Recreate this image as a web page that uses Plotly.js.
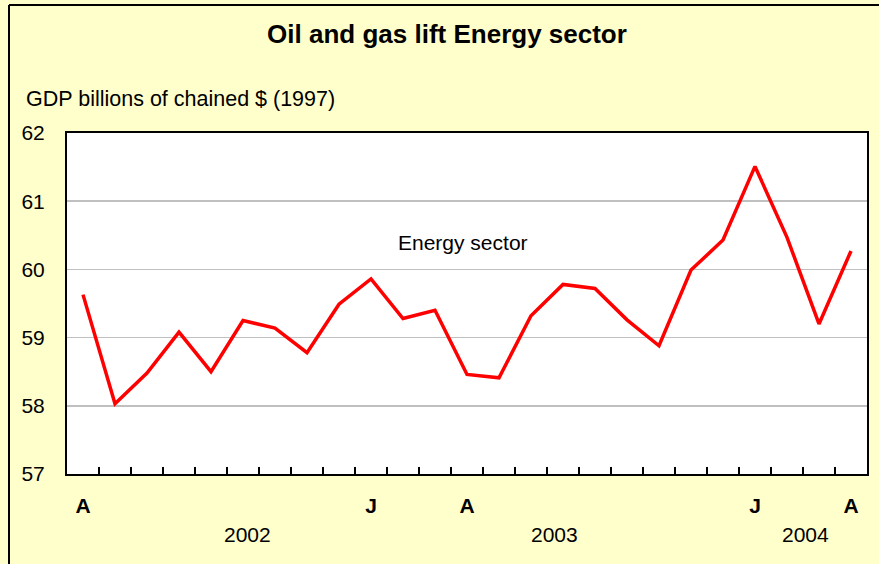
<!DOCTYPE html>
<html>
<head>
<meta charset="utf-8">
<script src="https://cdn.plot.ly/plotly-3.0.1.min.js"></script>
<style>
html,body{margin:0;padding:0;background:#FFFFCC;}
#chart{width:879px;height:564px;}
</style>
</head>
<body>
<div id="chart"></div>
<script>
// Monthly categories, April 2002 - April 2004
var months = ['Apr 2002','May 2002','Jun 2002','Jul 2002','Aug 2002','Sep 2002','Oct 2002','Nov 2002','Dec 2002',
              'Jan 2003','Feb 2003','Mar 2003','Apr 2003','May 2003','Jun 2003','Jul 2003','Aug 2003','Sep 2003',
              'Oct 2003','Nov 2003','Dec 2003','Jan 2004','Feb 2004','Mar 2004','Apr 2004'];
// Energy sector GDP, billions of chained 1997 dollars
var energySector = [59.63, 58.03, 58.48, 59.08, 58.50, 59.25, 59.14, 58.78, 59.49,
                    59.86, 59.28, 59.40, 58.46, 58.41, 59.32, 59.78, 59.72, 59.26,
                    58.88, 59.99, 60.43, 61.51, 60.47, 59.20, 60.27];
// Month letters shown under the axis
var monthTickLabels = ['A','','','','','','','','',
                       'J','','','A','','','','','',
                       '','','','J','','','A'];
var yearLabels = ['2002','2003','2004'];
var yearLabelX = [0.226, 0.609, 0.9225];
var yTickValues = [57, 58, 59, 60, 61, 62];

var FONT = 'Liberation Sans, Arial, sans-serif';

var trace = {
  x: months,
  y: energySector,
  type: 'scatter',
  mode: 'lines',
  line: {color: '#FF0000', width: 3.5},
  hoverinfo: 'x+y',
  showlegend: false
};

var annotations = [
  {text: 'GDP billions of chained $ (1997)', xref: 'paper', yref: 'paper',
   x: (24-67)/800, y: 1 + (133-98.5)/341, xanchor: 'left', yanchor: 'middle',
   showarrow: false, font: {family: FONT, size: 21.5, color: '#000'}},
  {text: 'Energy sector', xref: 'paper', yref: 'y',
   x: (463-67)/800, y: 60.40, xanchor: 'center', yanchor: 'middle',
   showarrow: false, font: {family: FONT, size: 21, color: '#000'}}
];
for (var i = 0; i < yearLabels.length; i++) {
  annotations.push({text: yearLabels[i], xref: 'paper', yref: 'paper',
    x: yearLabelX[i], y: (474-534)/341, xanchor: 'center', yanchor: 'middle',
    showarrow: false, font: {family: FONT, size: 21, color: '#000'}});
}

var layout = {
  width: 879, height: 564,
  margin: {l: 67, r: 12, t: 133, b: 90, pad: 0},
  paper_bgcolor: '#FFFFCC',
  plot_bgcolor: '#FFFFFF',
  title: {text: '<b>Oil and gas lift Energy sector</b>', xref: 'container', yref: 'container',
          x: 447/879, y: 1 - 34/564, xanchor: 'center', yanchor: 'middle',
          font: {family: FONT, size: 26, color: '#000'}},
  xaxis: {
    type: 'category',
    tickmode: 'array', tickvals: months, ticktext: monthTickLabels,
    tickson: 'boundaries',
    ticks: 'inside', ticklen: 7, tickwidth: 2, tickcolor: '#000',
    showline: true, linecolor: '#000', linewidth: 2, mirror: true,
    showgrid: false, zeroline: false,
    range: [-0.5, 24.5],
    tickfont: {family: FONT, size: 21, color: '#000', weight: 'bold'},
    ticklabelstandoff: 12
  },
  yaxis: {
    range: [57, 62], tickmode: 'array', tickvals: yTickValues,
    ticks: '', showline: true, linecolor: '#000', linewidth: 2, mirror: true,
    showgrid: true, gridcolor: '#C0C0C0', gridwidth: 1.5, zeroline: false,
    tickfont: {family: FONT, size: 21, color: '#000'},
    ticklabelstandoff: 16
  },
  annotations: annotations,
  shapes: [
    {type: 'line', xref: 'paper', yref: 'paper', x0: (9-67)/800, x1: (9-67)/800,
     y0: -0.4, y1: 1 + (133-5)/341, line: {color: '#000', width: 2}},
    {type: 'line', xref: 'paper', yref: 'paper', x0: (9-67)/800, x1: 1.1,
     y0: 1 + (133-5)/341, y1: 1 + (133-5)/341, line: {color: '#000', width: 2}}
  ]
};

Plotly.newPlot('chart', [trace], layout, {displayModeBar: false, staticPlot: true});
</script>
</body>
</html>
